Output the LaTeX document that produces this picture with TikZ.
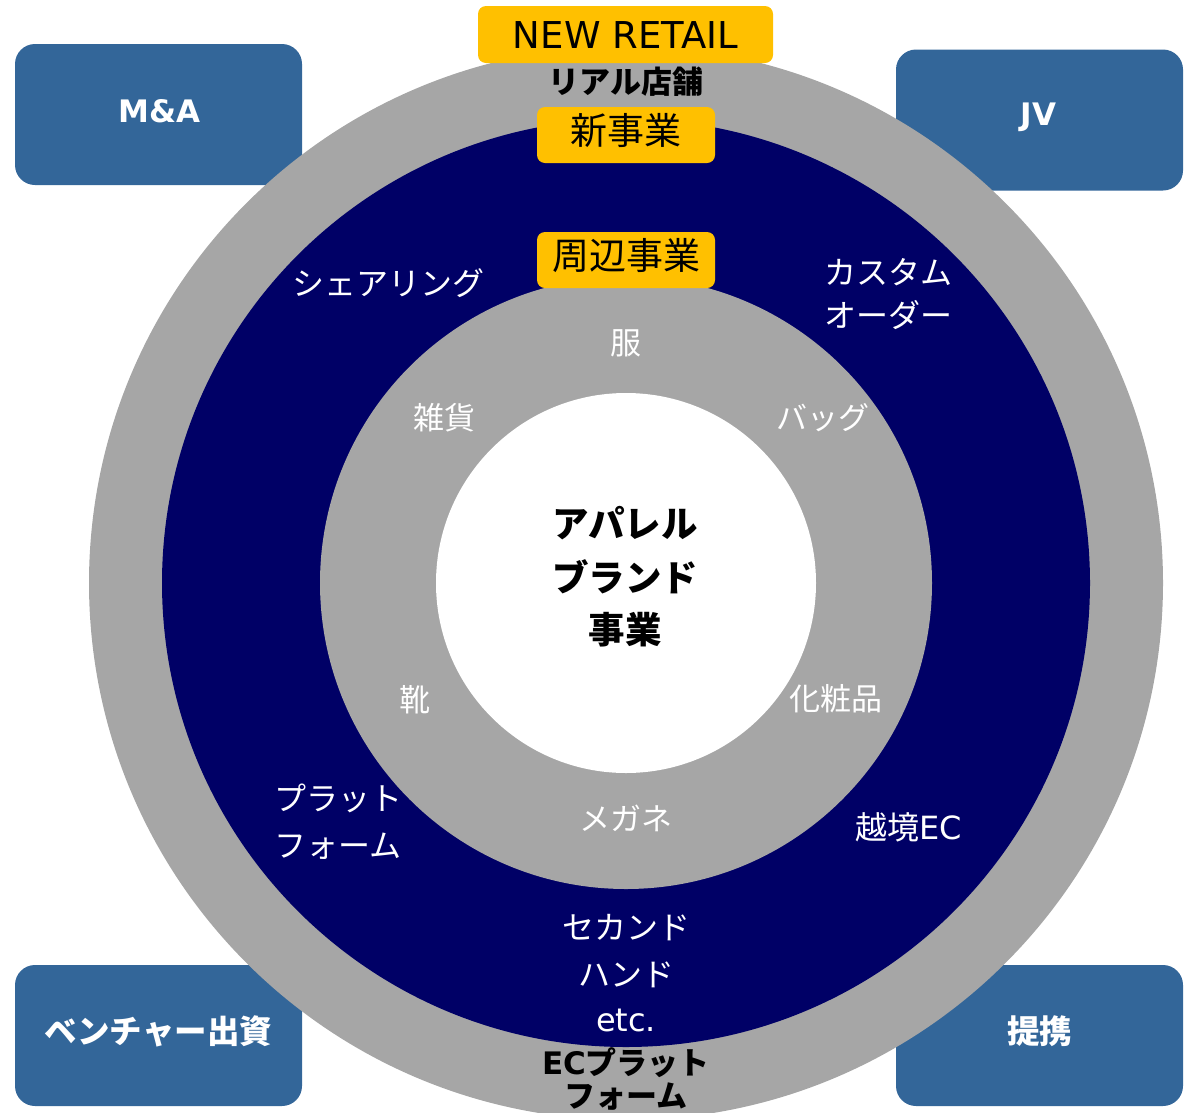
\documentclass[tikz,border=0pt]{standalone}
\usepackage{fontspec}
\setmainfont{Noto Sans CJK JP}
\newfontfamily\lat{DejaVu Sans}
\definecolor{boxblue}{RGB}{51,102,153}
\definecolor{ringgray}{RGB}{166,166,166}
\definecolor{navyring}{RGB}{0,0,102}
\definecolor{ylw}{RGB}{255,192,0}
\tikzset{
  cornerbox/.style={fill=boxblue, rounded corners=20pt, minimum width=287pt, minimum height=141pt, inner sep=0pt},
  cornertxt/.style={inner sep=0pt, text=white, font=\fontsize{32.5}{36}\selectfont\bfseries},
  ybox/.style={fill=ylw, rounded corners=8pt, inner sep=0pt},
  ytxt/.style={inner sep=0pt, text=black, font=\fontsize{37}{42}\selectfont},
  wtxt/.style={inner sep=0pt, text=white, font=\fontsize{32}{36}\selectfont},
  itxt/.style={inner sep=0pt, text=white, font=\fontsize{31}{36}\selectfont},
  btxt/.style={inner sep=0pt, text=black, font=\fontsize{31}{36}\selectfont\bfseries},
  ctxt/.style={inner sep=0pt, text=black, font=\fontsize{36.5}{40}\selectfont\bfseries},
}
\begin{document}
\begin{tikzpicture}[x=1pt,y=-1pt]
\useasboundingbox (0,0) rectangle (1187,1112);
% corner boxes
\node[cornerbox] (mabox) at (158.5,114.5) {};
\node[cornerbox] (jvbox) at (1039.5,120) {};
\node[cornerbox] (vcbox) at (158.5,1035.5) {};
\node[cornerbox] (tkbox) at (1039.5,1035.5) {};
\node[cornertxt, font=\fontsize{31}{36}\selectfont\bfseries\lat] (ma) at (159.5,111.5) {M\&A};
\node[cornertxt, font=\fontsize{31}{36}\selectfont\bfseries\lat] (jv) at (1038.5,117.5) {JV};
\node[cornertxt] (vc) at (158.5,1031.5) {ベンチャー出資};
\node[cornertxt] (tk) at (1039.5,1031.5) {提携};
% rings
\fill[ringgray] (626,583) circle[radius=537pt];
\fill[navyring] (626,583) circle[radius=464pt];
\fill[ringgray] (626,583) circle[radius=306pt];
\fill[white] (626,583) circle[radius=190pt];
% yellow labels
\node[ybox, minimum width=295pt, minimum height=57pt] (nrbox) at (625.5,34.5) {};
\node[inner sep=0pt, font=\fontsize{37}{40}\selectfont\lat] (nr) at (625.5,35) {NEW RETAIL};
\node[btxt] (real) at (626,82) {リアル店舗};
\node[ybox, minimum width=178pt, minimum height=56pt] (nbbox) at (626,135) {};
\node[ytxt] (nb) at (626,130) {新事業};
\node[ybox, minimum width=178pt, minimum height=56pt] (sbbox) at (626,260) {};
\node[ytxt] (sb) at (626,256) {周辺事業};
% navy ring texts
\node[wtxt] (share) at (388,283) {シェアリング};
\node[wtxt] (cust1) at (888,272) {カスタム};
\node[wtxt] (cust2) at (888,315) {オーダー};
\node[wtxt] (plat1) at (338,798) {プラット};
\node[wtxt] (plat2) at (338,846) {フォーム};
\node[wtxt] (ecx) at (909,827) {越境{\lat EC}};
\node[wtxt] (sec1) at (626,928) {セカンド};
\node[wtxt] (sec2) at (626,975) {ハンド};
\node[wtxt, font=\fontsize{32}{36}\selectfont\lat] (sec3) at (626,1020) {etc.};
% inner ring texts
\node[itxt] (fuku) at (626,343) {服};
\node[itxt] (zakka) at (444,418) {雑貨};
\node[itxt] (bag) at (823,418) {バッグ};
\node[itxt] (kutsu) at (415,700) {靴};
\node[itxt] (kesho) at (836,699) {化粧品};
\node[itxt] (megane) at (626,818) {メガネ};
% center
\node[ctxt] (c1) at (625,523) {アパレル};
\node[ctxt] (c2) at (625,577) {ブランド};
\node[ctxt] (c3) at (625,630) {事業};
% bottom label
\node[btxt] (ec1) at (626,1063) {{\lat EC}プラット};
\node[btxt] (ec2) at (626,1097) {フォーム};
\end{tikzpicture}
\end{document}
